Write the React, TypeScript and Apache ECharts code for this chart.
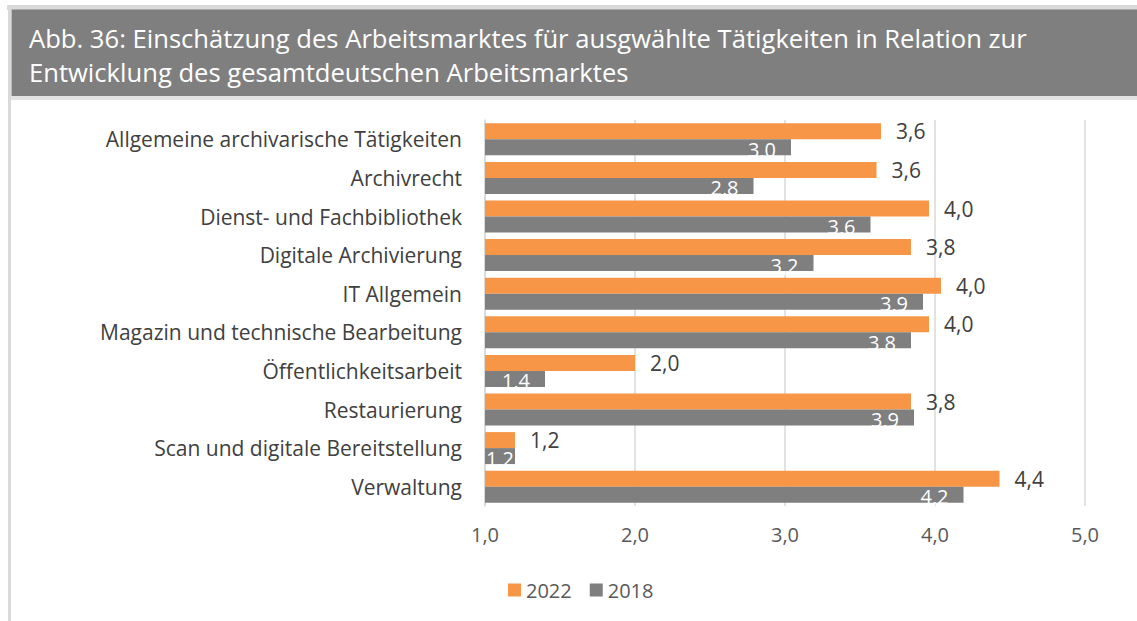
import React, { useEffect, useRef } from "react";
import * as echarts from "echarts";

const titleLines = [
  "Abb. 36: Einschätzung des Arbeitsmarktes für ausgwählte Tätigkeiten in Relation zur",
  "Entwicklung des gesamtdeutschen Arbeitsmarktes",
];
const categories = [
  "Allgemeine archivarische Tätigkeiten",
  "Archivrecht",
  "Dienst- und Fachbibliothek",
  "Digitale Archivierung",
  "IT Allgemein",
  "Magazin und technische Bearbeitung",
  "Öffentlichkeitsarbeit",
  "Restaurierung",
  "Scan und digitale Bereitstellung",
  "Verwaltung",
];
const values2022 = [3.64, 3.61, 3.96, 3.84, 4.04, 3.96, 2.0, 3.84, 1.2, 4.43];
const values2018 = [3.04, 2.79, 3.57, 3.19, 3.92, 3.84, 1.4, 3.86, 1.2, 4.19];
const seriesNames = ["2022", "2018"];
const xTicks = { min: 1, max: 5, interval: 1 };

const FONT = "Open Sans";
const fmt = (v: number) => v.toFixed(1).replace(".", ",");

export default function App() {
  const ref = useRef<HTMLDivElement>(null);
  useEffect(() => {
    if (!ref.current) return;
    const chart = echarts.init(ref.current, undefined, { renderer: "svg" });
    const grayData = values2018.map((v) =>
      v < 1.3 ? { value: v, label: { position: "insideRight", distance: 1 } } : v
    );
    chart.setOption({
      animation: false,
      backgroundColor: "#ffffff",
      textStyle: { fontFamily: FONT },
      graphic: [
        { type: "rect", shape: { x: 7, y: 5, width: 1130, height: 5 }, style: { fill: "#D9D9D9" } },
        { type: "rect", shape: { x: 8, y: 5, width: 3, height: 616 }, style: { fill: "#D9D9D9" } },
        { type: "rect", shape: { x: 11, y: 96, width: 1126, height: 4 }, style: { fill: "#E3E3E3" } },
        { type: "rect", shape: { x: 11.5, y: 9.5, width: 1126, height: 86.5 }, style: { fill: "#7F7F7F" } },
        {
          type: "text",
          x: 29,
          y: 38,
          style: { text: titleLines[0], fill: "#ffffff", font: `25.6px '${FONT}'`, textVerticalAlign: "middle" },
        },
        {
          type: "text",
          x: 29,
          y: 72,
          style: { text: titleLines[1], fill: "#ffffff", font: `25.6px '${FONT}'`, textVerticalAlign: "middle" },
        },
      ],
      legend: {
        data: seriesNames,
        left: 503,
        top: 575,
        itemWidth: 13,
        itemHeight: 13,
        itemGap: 18,
        icon: "rect",
        textStyle: { fontFamily: FONT, fontSize: 20, color: "#595959" },
      },
      grid: { left: 485, right: 52, top: 120, bottom: 115, containLabel: false },
      xAxis: {
        type: "value",
        min: xTicks.min,
        max: xTicks.max,
        interval: xTicks.interval,
        axisLine: { show: false },
        axisTick: { show: false },
        splitLine: { lineStyle: { color: "#D9D9D9", width: 1.5 } },
        axisLabel: { formatter: (v: number) => fmt(v), color: "#595959", fontSize: 20, margin: 18, fontFamily: FONT },
      },
      yAxis: {
        type: "category",
        data: categories,
        inverse: true,
        axisTick: { show: false },
        axisLine: { lineStyle: { color: "#D9D9D9", width: 1.5 } },
        axisLabel: { color: "#404040", fontSize: 21, margin: 23, fontFamily: FONT },
      },
      series: [
        {
          name: seriesNames[0],
          type: "bar",
          data: values2022,
          barWidth: 16,
          barGap: "0%",
          itemStyle: { color: "#F79646" },
          label: {
            show: true,
            position: "right",
            distance: 15,
            formatter: (p: any) => fmt(p.value),
            color: "#404040",
            fontSize: 21,
            fontFamily: FONT,
          },
        },
        {
          name: seriesNames[1],
          type: "bar",
          data: grayData,
          barWidth: 16,
          barGap: "0%",
          itemStyle: { color: "#7F7F7F" },
          label: {
            show: true,
            position: "insideRight",
            distance: 15,
            offset: [0, 2],
            formatter: (p: any) => fmt(p.value),
            color: "#ffffff",
            fontSize: 20,
            fontFamily: FONT,
          },
        },
      ],
    });
    return () => chart.dispose();
  }, []);
  return (
    <div
      ref={ref}
      style={{ position: "absolute", left: 0, top: 0, width: 1137, height: 621 }}
    />
  );
}
